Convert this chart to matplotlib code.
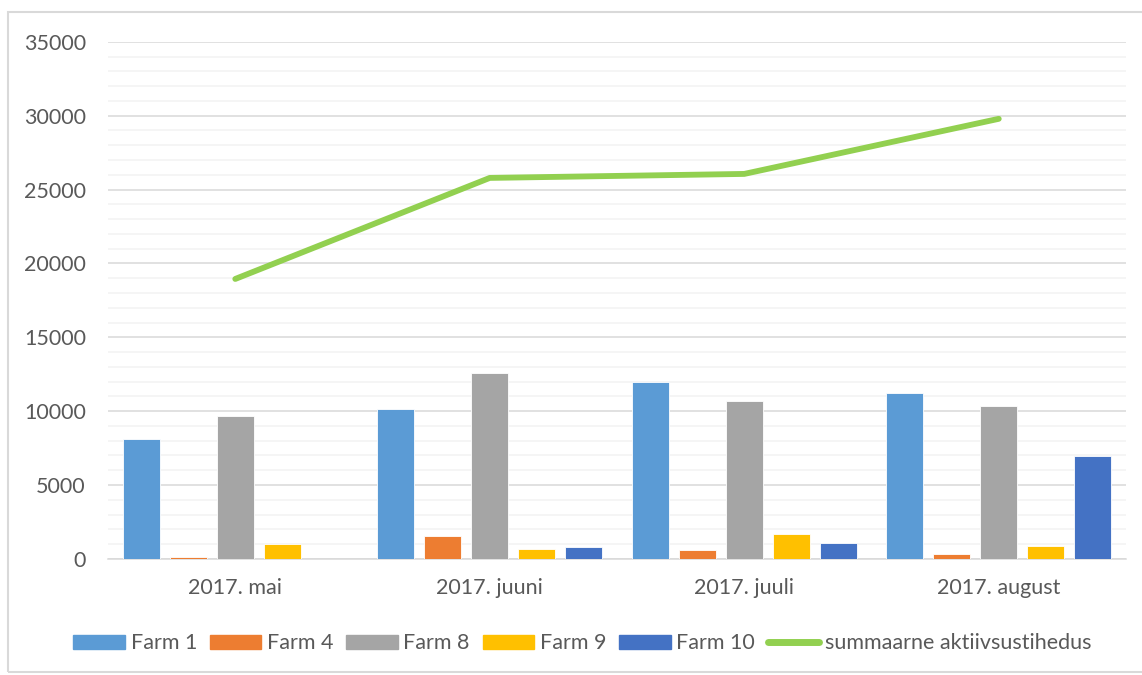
import numpy as np
import matplotlib
matplotlib.use("Agg")
import matplotlib.pyplot as plt
from matplotlib.lines import Line2D
from matplotlib.patches import Rectangle

plt.rcParams['font.family'] = ['Lato', 'DejaVu Sans']

months = ['2017. mai', '2017. juuni', '2017. juuli', '2017. august']
farm1 = [8100, 10150, 11980, 11240]
farm4 = [135, 1530, 570, 340]
farm8 = [9660, 12590, 10700, 10380]
farm9 = [1015, 680, 1670, 880]
farm10 = [0, 810, 1110, 6950]
summaarne = [18950, 25790, 26060, 29790]

series = [('Farm 1', farm1, '#5b9bd5'),
          ('Farm 4', farm4, '#ed7d31'),
          ('Farm 8', farm8, '#a5a5a5'),
          ('Farm 9', farm9, '#ffc000'),
          ('Farm 10', farm10, '#4472c4')]

fig = plt.figure(figsize=(11.42, 6.75), dpi=100)
ax = fig.add_axes([0.0946, 0.172, 0.8914, 0.766])

x = np.arange(len(months))
step = 0.185
width = 0.145
handles = []
for i, (name, vals, col) in enumerate(series):
    ax.bar(x + (i - 2) * step, vals, width, color=col, edgecolor='white',
           linewidth=0.6, zorder=3)
    handles.append(Rectangle((0, 0), 1, 1, color=col, label=name))

ax.plot(x, summaarne, color='#92d050', lw=4.2, solid_capstyle='round', zorder=4)
handles.append(Line2D([0], [0], color='#92d050', lw=5, solid_capstyle='round',
                      label='summaarne aktiivsustihedus'))

ax.set_xlim(-0.5, 3.5)
ax.set_ylim(0, 35000)
ax.set_yticks(np.arange(0, 35001, 5000))
ax.set_yticks(np.arange(0, 35001, 1000), minor=True)
ax.grid(axis='y', which='major', color='#d9d9d9', lw=1.1, zorder=0)
ax.grid(axis='y', which='minor', color='#f2f2f2', lw=1.1, zorder=0)
ax.set_xticks(x)
ax.set_xticklabels(months)
ax.tick_params(axis='both', which='both', length=0, labelsize=15.5, colors='#595959')
ax.tick_params(axis='y', pad=16)
ax.tick_params(axis='x', pad=14)
for s in ['top', 'right', 'left']:
    ax.spines[s].set_visible(False)
ax.spines['bottom'].set_color('#d9d9d9')
ax.spines['bottom'].set_linewidth(1.1)

leg = fig.legend(handles=handles, loc='center', bbox_to_anchor=(0.51, 0.047),
                 ncol=6, frameon=False, fontsize=15.5, handlelength=2.4,
                 handleheight=0.6, handletextpad=0.25, columnspacing=0.6)
for t in leg.get_texts():
    t.set_color('#595959')

# outer chart border
fig.patches.append(Rectangle((8 / 1142, 3 / 675), 1.2, 660 / 675, transform=fig.transFigure,
                             fill=False, edgecolor='#d9d9d9', lw=1.5))

fig.savefig('out.png', dpi=100)
